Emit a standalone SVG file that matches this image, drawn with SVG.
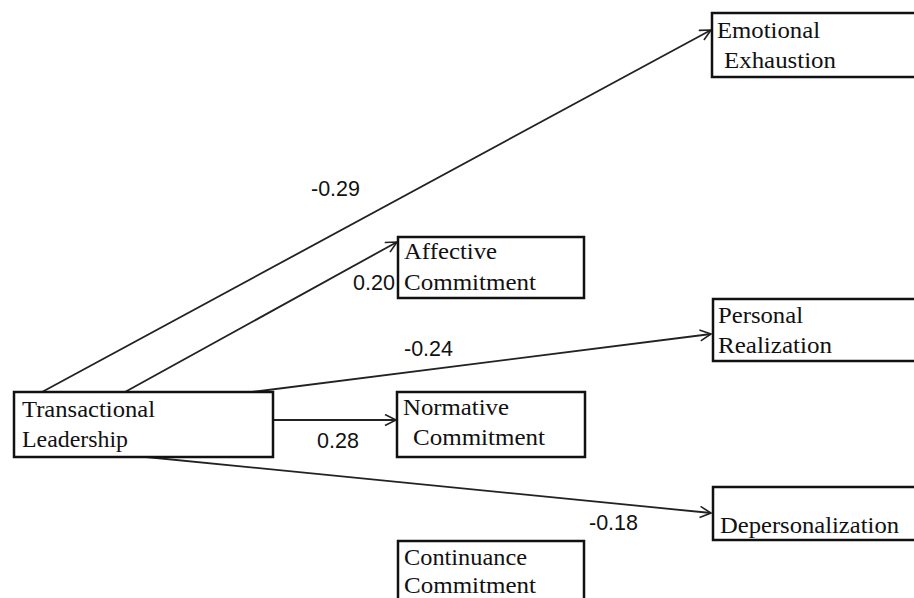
<svg xmlns="http://www.w3.org/2000/svg" width="914" height="598" viewBox="0 0 914 598">
<style>
.box{fill:#fff;stroke:#111;stroke-width:2.5}
.t{font-family:"Liberation Serif","Times New Roman",serif;font-size:24px;fill:#111}
.lbl{font-family:"Liberation Sans",Arial,sans-serif;font-size:21.5px;fill:#111}
.edge{stroke:#222;stroke-width:1.8;fill:none}
</style>
<defs>
<marker id="arr" markerUnits="userSpaceOnUse" markerWidth="16" markerHeight="14" refX="12" refY="6" orient="auto">
<path d="M1,0.5 L12,6 L1,11.5" fill="none" stroke="#222" stroke-width="1.6"/>
</marker>
</defs>
<rect width="914" height="598" fill="#fff"/>
<g id="connectors">
<line class="edge" x1="42" y1="392" x2="711" y2="30" marker-end="url(#arr)"/>
<line class="edge" x1="125" y1="392" x2="397" y2="242" marker-end="url(#arr)"/>
<line class="edge" x1="252" y1="392" x2="711" y2="334" marker-end="url(#arr)"/>
<line class="edge" x1="273" y1="420" x2="396" y2="420" marker-end="url(#arr)"/>
<line class="edge" x1="146" y1="457" x2="711" y2="513" marker-end="url(#arr)"/>
</g>
<g id="labels">
<text class="lbl" x="311" y="196">-0.29</text>
<text class="lbl" x="353" y="290">0.20</text>
<text class="lbl" x="404" y="356">-0.24</text>
<text class="lbl" x="317" y="448">0.28</text>
<text class="lbl" x="589" y="530">-0.18</text>
</g>
<g id="transactional">
<rect class="box" x="14" y="392" width="259" height="65"/>
<text class="t" x="22" y="417" textLength="133" lengthAdjust="spacingAndGlyphs">Transactional</text>
<text class="t" x="22" y="447" textLength="106" lengthAdjust="spacingAndGlyphs">Leadership</text>
</g>
<g id="emotional">
<rect class="box" x="712" y="13" width="230" height="64"/>
<text class="t" x="717" y="38" textLength="103" lengthAdjust="spacingAndGlyphs">Emotional</text>
<text class="t" x="724" y="68" textLength="112" lengthAdjust="spacingAndGlyphs">Exhaustion</text>
</g>
<g id="affective">
<rect class="box" x="398" y="237" width="186" height="61"/>
<text class="t" x="404" y="259" textLength="93" lengthAdjust="spacingAndGlyphs">Affective</text>
<text class="t" x="404" y="290" textLength="132" lengthAdjust="spacingAndGlyphs">Commitment</text>
</g>
<g id="personal">
<rect class="box" x="713" y="299" width="230" height="62"/>
<text class="t" x="718" y="323" textLength="85" lengthAdjust="spacingAndGlyphs">Personal</text>
<text class="t" x="718" y="353" textLength="114" lengthAdjust="spacingAndGlyphs">Realization</text>
</g>
<g id="normative">
<rect class="box" x="397" y="392" width="188" height="65"/>
<text class="t" x="403" y="415" textLength="106" lengthAdjust="spacingAndGlyphs">Normative</text>
<text class="t" x="413" y="445" textLength="132" lengthAdjust="spacingAndGlyphs">Commitment</text>
</g>
<g id="depersonalization">
<rect class="box" x="713" y="487" width="230" height="53"/>
<text class="t" x="720" y="533" textLength="179" lengthAdjust="spacingAndGlyphs">Depersonalization</text>
</g>
<g id="continuance">
<rect class="box" x="398" y="541" width="186" height="70"/>
<text class="t" x="404" y="565" textLength="123" lengthAdjust="spacingAndGlyphs">Continuance</text>
<text class="t" x="404" y="593" textLength="132" lengthAdjust="spacingAndGlyphs">Commitment</text>
</g>
</svg>
